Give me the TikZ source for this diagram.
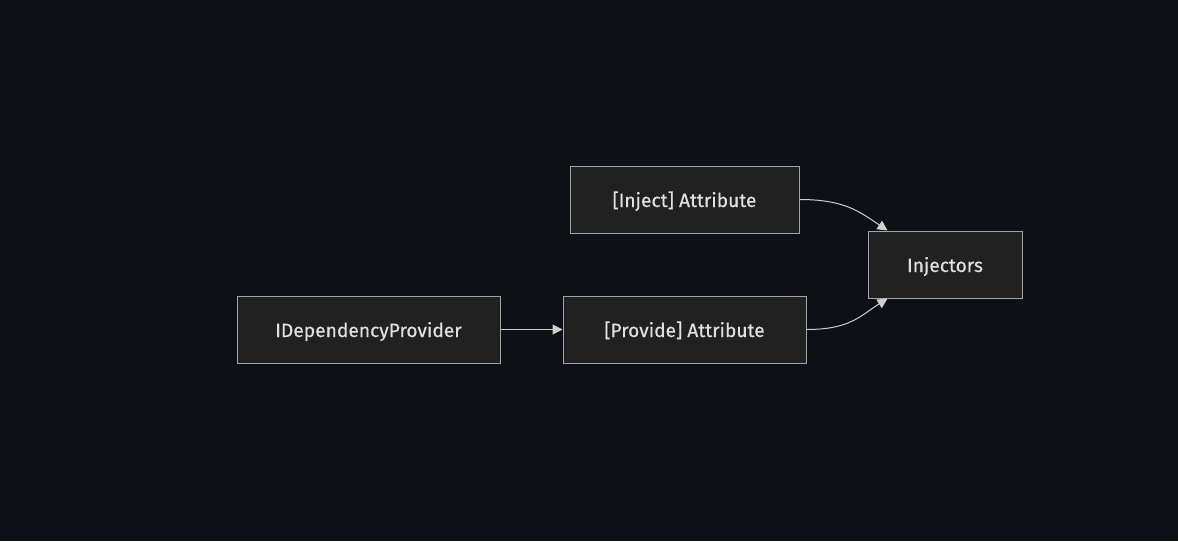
\documentclass[tikz,border=0pt]{standalone}
\usepackage{fontspec}
\newfontfamily\lblfont[FakeBold=0.35]{Fira Sans}
\usetikzlibrary{arrows.meta,calc}
\definecolor{bg}{HTML}{0D1017}
\definecolor{boxfill}{HTML}{212121}
\definecolor{boxline}{HTML}{A3A3A3}
\definecolor{txt}{HTML}{E0E0E0}
\definecolor{edge}{HTML}{D0D0D0}
\tikzset{
  box/.style={draw=boxline, fill=boxfill, line width=1pt, text=txt, inner sep=0pt,
    text height=17pt, text depth=2pt,
    font=\lblfont\fontsize{19.2}{22}\selectfont},
  link/.style={draw=edge, line width=1pt, -{Triangle[length=10pt,width=10pt]}}
}
\begin{document}
\begin{tikzpicture}[x=1pt,y=-1pt]
\fill[bg] (0,0) rectangle (1178,541);
\useasboundingbox (0,0) rectangle (1178,541);
\node[box, minimum width=229pt, minimum height=67pt] (inj) at (684.5,199.5) {[Inject] Attribute};
\node[box, minimum width=154pt, minimum height=67pt] (injr) at (945,264.5) {Injectors};
\node[box, minimum width=263pt, minimum height=67pt] (idp) at (368.5,329.5) {IDependencyProvider};
\node[box, minimum width=243pt, minimum height=67pt] (prov) at (684.5,329.5) {[Provide] Attribute};
\coordinate (t1) at ($(injr.north west)+(20,0)$);
\coordinate (t2) at ($(injr.south west)+(20,0)$);
\draw[link] (idp.east) -- (prov.west);
\draw[link] (inj.east) .. controls (845,199.5) and (860,212) .. (t1);
\draw[link] (prov.east) .. controls (850,329.5) and (860,316) .. (t2);
\end{tikzpicture}
\end{document}
